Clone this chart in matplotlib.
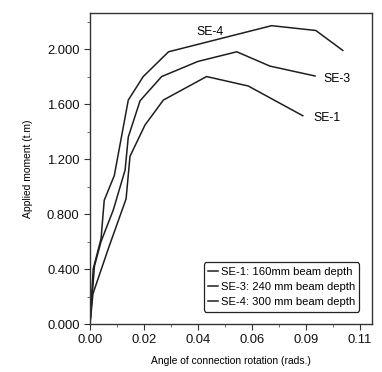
import matplotlib
matplotlib.use("Agg")
import matplotlib.pyplot as plt
from matplotlib.ticker import MultipleLocator, FixedLocator, FixedFormatter

plt.rcParams['font.family'] = ['Liberation Sans', 'DejaVu Sans']

# rotation (rads.) vs applied moment (t.m)
se1_x = [0.0, 0.0012, 0.0076, 0.0147, 0.0163, 0.0224, 0.0299, 0.0475, 0.0645, 0.0867]
se1_y = [0.0, 0.22, 0.555, 0.91, 1.22, 1.447, 1.629, 1.80, 1.731, 1.515]

se3_x = [0.0, 0.0018, 0.0045, 0.0095, 0.0143, 0.0156, 0.0204, 0.0292, 0.044, 0.0598, 0.0733, 0.0917]
se3_y = [0.0, 0.42, 0.60, 0.83, 1.12, 1.36, 1.624, 1.80, 1.91, 1.98, 1.876, 1.804]

se4_x = [0.0, 0.0013, 0.0045, 0.0058, 0.0099, 0.0156, 0.0217, 0.032, 0.074, 0.092, 0.103]
se4_y = [0.0, 0.40, 0.62, 0.90, 1.08, 1.629, 1.80, 1.98, 2.17, 2.135, 1.99]

legend_labels = ['SE-1: 160mm beam depth', 'SE-3: 240 mm beam depth', 'SE-4: 300 mm beam depth']

x_ticks = [0.0, 0.022, 0.044, 0.066, 0.088, 0.11]
x_tick_labels = ['0.00', '0.02', '0.04', '0.06', '0.09', '0.11']
y_ticks = [0.0, 0.4, 0.8, 1.2, 1.6, 2.0]
y_tick_labels = ['0.000', '0.400', '0.800', '1.200', '1.600', '2.000']

fig = plt.figure(figsize=(3.82, 3.72), dpi=100)
ax = fig.add_axes([0.2356, 0.129, 0.7382, 0.836])

lc = '#1e1e1e'
ax.plot(se1_x, se1_y, color=lc, lw=1.1, label=legend_labels[0])
ax.plot(se3_x, se3_y, color=lc, lw=1.1, label=legend_labels[1])
ax.plot(se4_x, se4_y, color=lc, lw=1.1, label=legend_labels[2])

ax.text(0.0489, 2.125, 'SE-4', fontsize=8.8, ha='center', va='center')
ax.text(0.1005, 1.78, 'SE-3', fontsize=8.8, ha='center', va='center')
ax.text(0.0964, 1.496, 'SE-1', fontsize=8.8, ha='center', va='center')

ax.set_xlim(0, 0.1149)
ax.set_ylim(0, 2.262)

ax.xaxis.set_major_locator(FixedLocator(x_ticks))
ax.xaxis.set_major_formatter(FixedFormatter(x_tick_labels))
ax.xaxis.set_minor_locator(MultipleLocator(0.011))
ax.yaxis.set_major_locator(FixedLocator(y_ticks))
ax.yaxis.set_major_formatter(FixedFormatter(y_tick_labels))
ax.yaxis.set_minor_locator(MultipleLocator(0.2))

ax.tick_params(which='major', direction='out', length=4, width=0.8, labelsize=9.4, colors='#333333', labelcolor='#111111')
ax.tick_params(which='minor', direction='out', length=2.5, width=0.6, colors='#555555')
for s in ax.spines.values():
    s.set_linewidth(1.0)
    s.set_color('#333333')

ax.set_xlabel('Angle of connection rotation (rads.)', fontsize=7.4, labelpad=7)
ax.set_ylabel('Applied moment (t.m)', fontsize=7.4, labelpad=10)

leg = ax.legend(loc='lower right', bbox_to_anchor=(0.955, 0.04), fontsize=8.1, handlelength=0.9,
                handletextpad=0.2, borderpad=0.4, labelspacing=0.45, frameon=True, fancybox=True,
                borderaxespad=0)
leg.get_frame().set_edgecolor('#222222')
leg.get_frame().set_linewidth(0.9)
leg.get_frame().set_alpha(1)

fig.savefig('out.png', dpi=100)
